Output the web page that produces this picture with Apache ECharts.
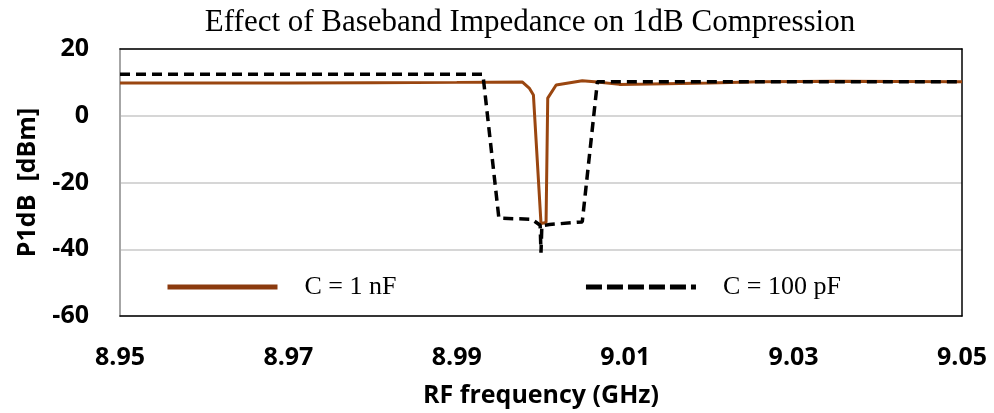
<!DOCTYPE html>
<html>
<head>
<meta charset="utf-8">
<script src="https://cdn.jsdelivr.net/npm/echarts@6/dist/echarts.min.js"></script>
<style>
  html, body { margin: 0; padding: 0; background: #ffffff; }
  #chart { width: 994px; height: 413px; }
</style>
</head>
<body>
<div id="chart"></div>
<script>
// RF frequency (GHz) and P1dB (dBm) for the 1 nF baseband capacitor
const freq1nF = [8.95, 8.96, 8.97, 8.98, 8.99, 8.9978, 8.9986, 8.9991, 9.0000, 9.0006, 9.0008, 9.0018, 9.0049, 9.0067, 9.0093, 9.013, 9.02, 9.026, 9.035, 9.05];
const p1dB1nF = [9.8, 9.8, 9.8, 9.9, 10.0, 10.1, 8.3, 6.2, -32.3, -32.0, 5.3, 9.2, 10.5, 10.1, 9.4, 9.5, 9.8, 10.2, 10.3, 10.2];

// RF frequency (GHz) and P1dB (dBm) for the 100 pF baseband capacitor
const freq100pF = [8.95, 8.9931, 8.995, 8.9989, 8.9999, 9.0000, 9.0001, 9.0010, 9.0049, 9.0067, 9.05];
const p1dB100pF = [12.4, 12.4, -30.7, -31.0, -32.8, -41.0, -33.0, -32.6, -31.8, 10.2, 10.2];

const seriesNames = ['C = 1 nF', 'C = 100 pF'];
const xTicks = { min: 8.95, max: 9.05, step: 0.02 };
const yTicks = { min: -60, max: 20, step: 20 };

const pairs = (xs, ys) => xs.map((x, i) => [x, ys[i]]);

const labelFont = { fontFamily: 'Open Sans', fontWeight: 'bold', fontSize: 25, color: '#000' };
const nameFont = { fontFamily: 'Open Sans', fontWeight: 'bold', fontSize: 25, color: '#000' };
const serif = 'Liberation Serif';
const brown = '#9A4610';

const chart = echarts.init(document.getElementById('chart'), null, { renderer: 'canvas' });
chart.setOption({
  animation: false,
  backgroundColor: '#ffffff',
  title: {
    text: 'Effect of Baseband Impedance on 1dB Compression',
    left: 525,
    top: 2,
    textAlign: 'center',
    textStyle: { fontFamily: serif, fontWeight: 'normal', fontSize: 31, color: '#000' }
  },
  legend: {
    left: 160,
    top: 269,
    itemWidth: 110,
    itemHeight: 14,
    itemGap: 187,
    textStyle: { fontFamily: serif, fontSize: 26, color: '#000', padding: [0, 0, 0, 22] },
    data: [
      { name: seriesNames[0], itemStyle: { opacity: 0 }, lineStyle: { width: 5, color: '#8B3A0E' } },
      { name: seriesNames[1], itemStyle: { opacity: 0 }, lineStyle: { width: 5, color: '#000', type: [16, 5] } }
    ]
  },
  grid: { left: 120, right: 32, top: 49, bottom: 96 },
  xAxis: [
    {
      type: 'value',
      min: xTicks.min,
      max: xTicks.max,
      interval: xTicks.step,
      name: 'RF frequency (GHz)',
      nameLocation: 'middle',
      nameGap: 67,
      nameTextStyle: nameFont,
      axisLine: { show: true, onZero: false, lineStyle: { color: '#000', width: 1.5 } },
      axisTick: { show: false },
      splitLine: { show: false },
      axisLabel: Object.assign({ margin: 29, formatter: v => v.toFixed(2) }, labelFont)
    },
    {
      type: 'value',
      position: 'top',
      min: xTicks.min,
      max: xTicks.max,
      axisLine: { show: true, onZero: false, lineStyle: { color: '#000', width: 1.5 } },
      axisTick: { show: false },
      axisLabel: { show: false },
      splitLine: { show: false }
    }
  ],
  yAxis: [
    {
      type: 'value',
      min: yTicks.min,
      max: yTicks.max,
      interval: yTicks.step,
      name: 'P1dB  [dBm]',
      nameLocation: 'middle',
      nameGap: 80,
      nameTextStyle: nameFont,
      axisLine: { show: true, onZero: false, lineStyle: { color: '#a6a6a6', width: 2 } },
      axisTick: { show: false },
      splitLine: { show: true, lineStyle: { color: '#c8c8c8', width: 1.5 } },
      axisLabel: Object.assign({ margin: 31 }, labelFont)
    },
    {
      type: 'value',
      position: 'right',
      min: yTicks.min,
      max: yTicks.max,
      axisLine: { show: true, onZero: false, lineStyle: { color: '#000', width: 1.5 } },
      axisTick: { show: false },
      axisLabel: { show: false },
      splitLine: { show: false }
    }
  ],
  series: [
    {
      name: seriesNames[0],
      type: 'line',
      symbol: 'none',
      data: pairs(freq1nF, p1dB1nF),
      lineStyle: { color: brown, width: 3 },
      itemStyle: { color: brown }
    },
    {
      name: seriesNames[1],
      type: 'line',
      symbol: 'none',
      data: pairs(freq100pF, p1dB100pF),
      lineStyle: { color: '#000', width: 3.5, type: [10, 6], cap: 'butt' },
      itemStyle: { color: '#000' }
    }
  ]
});
</script>
</body>
</html>
